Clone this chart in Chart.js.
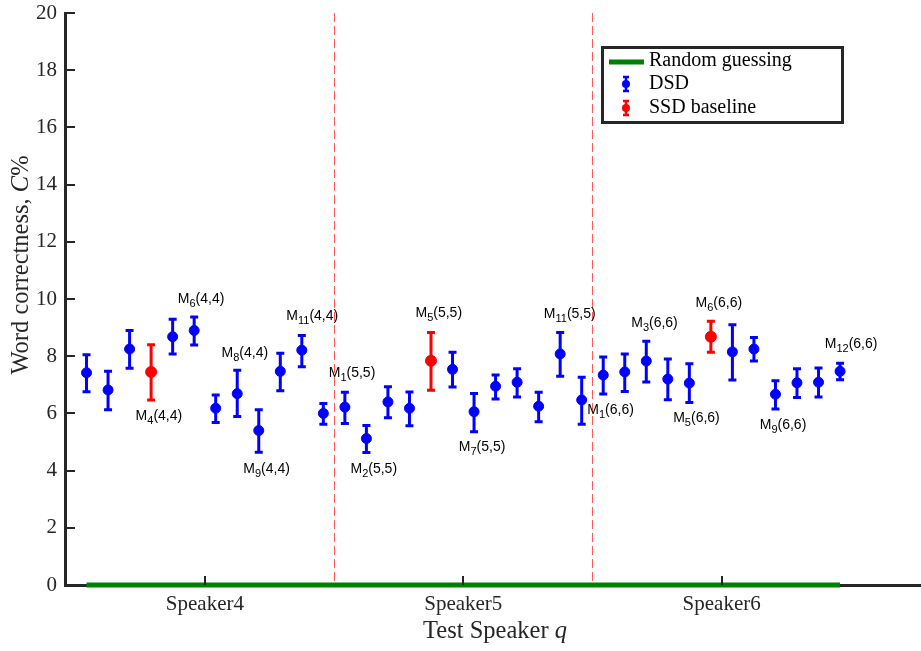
<!DOCTYPE html>
<html lang="en">
<head>
  <meta charset="UTF-8" />
  <title>Word correctness per test speaker</title>
  <script src="https://cdn.jsdelivr.net/npm/chart.js"></script>
  <style>
    body {
      margin: 0;
      background: #ffffff;
    }
    #wrap {
      width: 921px;
      height: 651px;
    }
  </style>
</head>
<body>
  <div id="wrap">
    <canvas id="wcChart" width="921" height="651"></canvas>
  </div>

  <script>
    // ---- data ----
    const speakers = ['Speaker4', 'Speaker5', 'Speaker6'];
    const speakerTicks = [6.5, 18.5, 30.5];
    const separators = [12.5, 24.5];
    const yTicks = [0, 2, 4, 6, 8, 10, 12, 14, 16, 18, 20];

    // one entry per model, positions 1..36
    const meanC = [7.42, 6.82, 8.25, 7.45, 8.68, 8.90, 6.18, 6.69, 5.40, 7.47, 8.21, 6.00,
                   6.22, 5.12, 6.40, 6.18, 7.84, 7.54, 6.06, 6.95, 7.09, 6.25, 8.08, 6.47,
                   7.34, 7.45, 7.83, 7.20, 7.06, 8.68, 8.15, 8.25, 6.67, 7.07, 7.09, 7.47];
    const lowC  = [6.76, 6.13, 7.58, 6.47, 8.08, 8.39, 5.68, 5.89, 4.64, 6.79, 7.63, 5.62,
                   5.65, 4.63, 5.85, 5.57, 6.81, 6.92, 5.36, 6.50, 6.57, 5.71, 7.30, 5.62,
                   6.68, 6.77, 7.10, 6.48, 6.38, 8.14, 7.17, 7.83, 6.15, 6.56, 6.57, 7.18];
    const highC = [8.05, 7.47, 8.90, 8.40, 9.29, 9.37, 6.64, 7.51, 6.13, 8.10, 8.72, 6.35,
                   6.74, 5.58, 6.93, 6.75, 8.83, 8.14, 6.70, 7.34, 7.56, 6.74, 8.83, 7.26,
                   7.97, 8.08, 8.52, 7.90, 7.74, 9.22, 9.10, 8.65, 7.14, 7.56, 7.59, 7.75];
    const baselinePos = [4, 17, 30];   // SSD baseline models
    const chanceX = [1, 36];
    const chanceY = [0, 0];

    // model labels: M_sub(pair)
    const labelSub  = ['4', '6', '8', '9', '11', '1', '2', '5', '7', '11', '1', '3', '6', '5', '9', '12'];
    const labelPair = ['(4,4)', '(4,4)', '(4,4)', '(4,4)', '(4,4)', '(5,5)', '(5,5)', '(5,5)',
                       '(5,5)', '(5,5)', '(6,6)', '(6,6)', '(6,6)', '(6,6)', '(6,6)', '(6,6)'];
    const labelX = [3.28, 5.24, 7.27, 8.28, 10.28, 12.25, 13.26, 16.28, 18.29, 22.24,
                    24.26, 26.30, 29.29, 28.25, 32.27, 35.29];
    const labelY = [5.77, 9.86, 7.96, 3.91, 9.27, 7.28, 3.91, 9.36, 4.70, 9.33,
                    5.98, 9.01, 9.71, 5.71, 5.45, 8.28];

    const AXIS = '#262626';
    const BLUE = '#0000ff';
    const RED = '#ff0000';
    const SERIF = '"Liberation Serif", "DejaVu Serif", serif';
    const SANS = '"Liberation Sans", Arial, sans-serif';

    function buildSet(pick) {
      const pts = [], lo = [], hi = [];
      meanC.forEach((v, i) => {
        if (pick(i + 1)) {
          pts.push({ x: i + 1, y: v });
          lo.push(lowC[i]);
          hi.push(highC[i]);
        }
      });
      return { pts, lo, hi };
    }
    const dsd = buildSet(p => !baselinePos.includes(p));
    const ssd = buildSet(p => baselinePos.includes(p));

    // vertical whiskers with caps, under the markers
    const errorBars = {
      id: 'errorBars',
      beforeDatasetsDraw(chart) {
        const ctx = chart.ctx;
        const y = chart.scales.y;
        chart.data.datasets.forEach((ds, di) => {
          if (!ds.errLow) return;
          const meta = chart.getDatasetMeta(di);
          ctx.save();
          ctx.strokeStyle = ds.borderColor;
          ctx.lineWidth = 3;
          meta.data.forEach((pt, k) => {
            const yl = y.getPixelForValue(ds.errLow[k]);
            const yh = y.getPixelForValue(ds.errHigh[k]);
            ctx.beginPath();
            ctx.moveTo(pt.x, yl);
            ctx.lineTo(pt.x, yh);
            ctx.moveTo(pt.x - 4, yl);
            ctx.lineTo(pt.x + 4, yl);
            ctx.moveTo(pt.x - 4, yh);
            ctx.lineTo(pt.x + 4, yh);
            ctx.stroke();
          });
          ctx.restore();
        });
      }
    };

    // dashed speaker separators
    const separatorLines = {
      id: 'separatorLines',
      beforeDatasetsDraw(chart) {
        const ctx = chart.ctx;
        const a = chart.chartArea;
        ctx.save();
        ctx.strokeStyle = '#ff5a5a';
        ctx.lineWidth = 1;
        ctx.setLineDash([9, 4]);
        separators.forEach(v => {
          const px = Math.round(chart.scales.x.getPixelForValue(v)) + 0.5;
          ctx.beginPath();
          ctx.moveTo(px, a.top);
          ctx.lineTo(px, a.bottom);
          ctx.stroke();
        });
        ctx.restore();
      }
    };

    function drawRich(ctx, parts, x, y) {
      // parts: [text, font, dy]
      let cx = x;
      parts.forEach(([t, f, dy]) => {
        ctx.font = f;
        ctx.fillText(t, cx, y + dy);
        cx += ctx.measureText(t).width;
      });
      return cx - x;
    }
    function richWidth(ctx, parts) {
      let w = 0;
      parts.forEach(([t, f]) => { ctx.font = f; w += ctx.measureText(t).width; });
      return w;
    }

    // inner ticks, titles, model labels and legend
    const decorations = {
      id: 'decorations',
      afterDraw(chart) {
        const ctx = chart.ctx;
        const a = chart.chartArea;
        const xs = chart.scales.x, ys = chart.scales.y;
        ctx.save();

        // inner tick marks
        ctx.strokeStyle = AXIS;
        ctx.lineWidth = 2;
        yTicks.forEach(v => {
          const py = Math.round(ys.getPixelForValue(v));
          ctx.beginPath();
          ctx.moveTo(a.left, py);
          ctx.lineTo(a.left + 10, py);
          ctx.stroke();
        });
        speakerTicks.forEach(v => {
          const px = Math.round(xs.getPixelForValue(v));
          ctx.beginPath();
          ctx.moveTo(px, a.bottom);
          ctx.lineTo(px, a.bottom - 9);
          ctx.stroke();
        });

        // model labels
        ctx.fillStyle = '#000000';
        ctx.textBaseline = 'alphabetic';
        ctx.textAlign = 'left';
        labelSub.forEach((s, i) => {
          drawRich(ctx, [
            ['M', '14px ' + SANS, 0],
            [s, '11px ' + SANS, 4],
            [labelPair[i], '14px ' + SANS, 0]
          ], xs.getPixelForValue(labelX[i]), ys.getPixelForValue(labelY[i]));
        });

        // axis titles
        ctx.fillStyle = AXIS;
        const xt = [['Test Speaker ', '24.5px ' + SERIF, 0], ['q', 'italic 24.5px ' + SERIF, 0]];
        drawRich(ctx, xt, 495 - richWidth(ctx, xt) / 2, 638);
        const yt = [['Word correctness, ', '24.5px ' + SERIF, 0], ['C', 'italic 24.5px ' + SERIF, 0],
                    ['%', '24.5px ' + SERIF, 0]];
        ctx.save();
        ctx.translate(28, 265);
        ctx.rotate(-Math.PI / 2);
        drawRich(ctx, yt, -richWidth(ctx, yt) / 2, 0);
        ctx.restore();

        // legend box
        const lx = 602.5, ly = 47.5, lw = 240, lh = 75;
        ctx.fillStyle = '#ffffff';
        ctx.fillRect(lx, ly, lw, lh);
        ctx.strokeStyle = AXIS;
        ctx.lineWidth = 3;
        ctx.strokeRect(lx, ly, lw, lh);

        ctx.strokeStyle = '#008000';
        ctx.lineWidth = 5;
        ctx.beginPath();
        ctx.moveTo(609, 62);
        ctx.lineTo(644, 62);
        ctx.stroke();

        [[BLUE, 84], [RED, 108]].forEach(([c, cy]) => {
          ctx.strokeStyle = c;
          ctx.fillStyle = c;
          ctx.lineWidth = 2.5;
          ctx.beginPath();
          ctx.moveTo(626, cy - 7); ctx.lineTo(626, cy + 7);
          ctx.moveTo(623, cy - 7); ctx.lineTo(629, cy - 7);
          ctx.moveTo(623, cy + 7); ctx.lineTo(629, cy + 7);
          ctx.stroke();
          ctx.beginPath();
          ctx.arc(626, cy, 4, 0, Math.PI * 2);
          ctx.fill();
        });

        ctx.fillStyle = '#000000';
        ctx.font = '20px ' + SERIF;
        ctx.textBaseline = 'middle';
        ctx.fillText('Random guessing', 649, 61);
        ctx.fillText('DSD', 649, 84);
        ctx.fillText('SSD baseline', 649, 108);

        ctx.restore();
      }
    };

    const ctx = document.getElementById('wcChart').getContext('2d');
    new Chart(ctx, {
      type: 'scatter',
      data: {
        datasets: [
          {
            label: 'Random guessing',
            type: 'line',
            data: chanceX.map((x, i) => ({ x, y: chanceY[i] })),
            borderColor: '#008000',
            borderWidth: 5,
            pointRadius: 0,
            clip: false
          },
          {
            label: 'DSD',
            data: dsd.pts,
            errLow: dsd.lo,
            errHigh: dsd.hi,
            borderColor: BLUE,
            backgroundColor: BLUE,
            pointRadius: 5,
            borderWidth: 1
          },
          {
            label: 'SSD baseline',
            data: ssd.pts,
            errLow: ssd.lo,
            errHigh: ssd.hi,
            borderColor: RED,
            backgroundColor: RED,
            pointRadius: 5.5,
            borderWidth: 1
          }
        ]
      },
      options: {
        responsive: false,
        animation: false,
        devicePixelRatio: 1,
        layout: { autoPadding: false, padding: { top: 13, right: 0, left: 0, bottom: 0 } },
        plugins: {
          legend: { display: false },
          tooltip: { enabled: false }
        },
        scales: {
          x: {
            type: 'linear',
            min: 0,
            max: 39.76,
            afterBuildTicks: axis => { axis.ticks = speakerTicks.map(v => ({ value: v })); },
            afterFit: axis => {
              axis.height = 66;
              axis.paddingLeft = 0;
              axis.paddingRight = 0;
            },
            ticks: {
              callback: (v, i) => speakers[i],
              font: { family: SERIF, size: 21 },
              color: AXIS,
              padding: 7,
              maxRotation: 0,
              autoSkip: false
            },
            grid: { display: false, drawTicks: false },
            border: { display: true, color: AXIS, width: 3 }
          },
          y: {
            min: 0,
            max: 20,
            afterBuildTicks: axis => { axis.ticks = yTicks.map(v => ({ value: v })); },
            afterFit: axis => {
              axis.width = 65;
              axis.paddingTop = 0;
              axis.paddingBottom = 0;
            },
            ticks: {
              font: { family: SERIF, size: 21 },
              color: AXIS,
              padding: 8
            },
            grid: { display: false, drawTicks: false },
            border: { display: true, color: AXIS, width: 3 }
          }
        }
      },
      plugins: [separatorLines, errorBars, decorations]
    });
  </script>
</body>
</html>
